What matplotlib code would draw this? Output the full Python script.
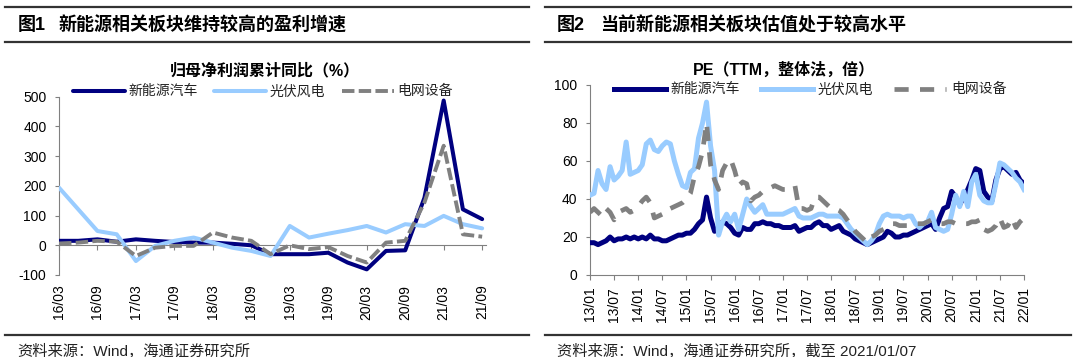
import numpy as np
import pandas as pd
import matplotlib
matplotlib.use('Agg')
import matplotlib.pyplot as plt
from matplotlib.lines import Line2D

plt.rcParams['font.family'] = ['Liberation Sans', 'Noto Sans CJK SC']
plt.rcParams['axes.unicode_minus'] = False

# ---- figure 1: quarterly cumulative net profit yoy (%) ----
quarters = ['16/03', '16/06', '16/09', '16/12', '17/03', '17/06', '17/09', '17/12',
            '18/03', '18/06', '18/09', '18/12', '19/03', '19/06', '19/09', '19/12',
            '20/03', '20/06', '20/09', '20/12', '21/03', '21/06', '21/09']
nev_yoy = [15, 15, 20, 12, 20, 15, 11, 9, 9, 5, 0, -30, -30, -30, -25, -58,
           -81, -19, -17, 160, 487, 121, 88]
pv_yoy = [194, 121, 48, 37, -53, -2, 15, 26, 9, -8, -19, -36, 65, 26, 39, 51,
          65, 43, 71, 65, 99, 71, 57]
grid_yoy = [6, 9, 15, 12, -36, -8, -2, -2, 43, 26, 15, -30, 0, -13, -6, -36,
            -58, 9, 15, 144, 335, 37, 29]

# ---- figure 2: monthly PE (TTM), 2013/01 - 2022/01 ----
pe_months = pd.date_range('2013-01-01', '2022-01-01', freq='MS')
nev_pe = [17, 17, 16, 17, 18, 20, 18, 19, 19, 20,
          19, 20, 19, 20, 19, 21, 19, 19, 18, 18,
          19, 20, 21, 21, 22, 22, 24, 27, 29, 41,
          30, 23, 25, 28, 27, 25, 22, 21, 25, 24,
          24, 27, 27, 28, 27, 27, 26, 26, 25, 25,
          25, 26, 23, 24, 25, 25, 27, 28, 26, 26,
          24, 25, 26, 23, 22, 21, 19, 18, 17, 16,
          17, 18, 19, 20, 23, 22, 20, 20, 21, 21,
          22, 23, 24, 25, 26, 27, 24, 30, 35, 36,
          44, 41, 37, 41, 45, 50, 56, 55, 44, 41,
          39, 50, 56, 57, 55, 53, 54, 50, 48]
pv_pe = [42, 43, 55, 48, 45, 57, 50, 52, 55, 70,
         53, 54, 55, 58, 69, 71, 66, 65, 68, 70,
         69, 60, 53, 47, 46, 54, 56, 72, 80, 91,
         68, 55, 21, 28, 32, 28, 32, 24, 32, 40,
         36, 33, 35, 37, 32, 32, 32, 32, 32, 33,
         34, 35, 31, 30, 30, 30, 31, 32, 32, 31,
         31, 31, 31, 30, 27, 24, 22, 20, 18, 16,
         18, 21, 27, 31, 32, 31, 31, 31, 30, 31,
         31, 27, 25, 27, 28, 33, 25, 24, 23, 24,
         32, 42, 36, 44, 36, 49, 53, 42, 39, 38,
         38, 48, 59, 58, 56, 54, 51, 49, 45]
grid_pe = [33, 35, 33, 31, 35, 33, 29, 33, 34, 35,
           33, 34, 36, 39, 41, 38, 30, 31, 32, 35,
           35, 36, 37, 38, 40, 43, 52, 57, 65, 80,
           58, 50, 45, 55, 59, 61, 55, 47, 49, 48,
           39, 41, 42, 44, 45, 46, 47, 46, 45, 45,
           46, 47, 35, 35, 34, 35, 41, 41, 39, 37,
           35, 35, 34, 32, 29, 26, 23, 21, 19, 17,
           20, 21, 23, 24, 25, 27, 27, 26, 26, 26,
           27, 27, 27, 27, 28, 29, 28, 27, 27, 28,
           28, 27, 27, 27, 27, 28, 28, 29, 24, 23,
           24, 26, 30, 25, 26, 30, 25, 28, 30]

names = ['新能源汽车', '光伏风电', '电网设备']
NAVY = '#000080'
LBLUE = '#99CCFF'
GRAY = '#808080'
RULE = '#333333'

W, H = 1080, 357
fig = plt.figure(figsize=(W / 100, H / 100), dpi=100)


def fx(x):
    return x / W


def fy(y):
    return 1 - y / H


def rule(x0, x1, y):
    fig.add_artist(Line2D([fx(x0), fx(x1)], [fy(y), fy(y)], transform=fig.transFigure,
                          color=RULE, lw=1.6))


def style_axes(ax):
    for s in ['top', 'right', 'bottom']:
        ax.spines[s].set_visible(False)
    ax.spines['left'].set_color(GRAY)
    ax.spines['left'].set_linewidth(0.8)
    ax.tick_params(axis='y', direction='out', length=3, color=GRAY, width=0.8,
                   labelsize=10, pad=6)


# panel frames
for x0, x1 in [(5, 529), (545, 1071)]:
    rule(x0, x1, 6.7)
    rule(x0, x1, 41.7)
    rule(x0, x1, 334.5)

tkw = dict(fontsize=13, fontweight='bold', va='center')
fig.text(fx(18), fy(25.5), '图1', **tkw)
fig.text(fx(59), fy(25.5), '新能源相关板块维持较高的盈利增速', **tkw)
fig.text(fx(557), fy(25.5), '图2', **tkw)
fig.text(fx(600), fy(25.5), '当前新能源相关板块估值处于较高水平', **tkw)

fig.text(fx(264.5), fy(70.7), '归母净利润累计同比（%）', fontsize=11.5, fontweight='bold',
         ha='center', va='center')
fig.text(fx(784), fy(69.5), 'PE（TTM，整体法，倍）', fontsize=11.5, fontweight='bold',
         ha='center', va='center')

skw = dict(fontsize=11, va='center', color='#222222')
fig.text(fx(17), fy(351), '资料来源：Wind，海通证券研究所', **skw)
fig.text(fx(557), fy(351), '资料来源：Wind，海通证券研究所，截至 2021/01/07', **skw)

# ---- left chart ----
ax1 = fig.add_axes([fx(59), fy(275), fx(486 - 59), (275 - 96.7) / H])
xq = np.arange(len(quarters))
l1, = ax1.plot(xq, nev_yoy, color=NAVY, lw=2.9, solid_joinstyle='round',
               solid_capstyle='round', zorder=3)
l2, = ax1.plot(xq, pv_yoy, color=LBLUE, lw=2.9, solid_joinstyle='round',
               solid_capstyle='round', zorder=3)
l3, = ax1.plot(xq, grid_yoy, color=GRAY, lw=2.8, dashes=(3.2, 1.1),
               dash_joinstyle='round', zorder=3)
ax1.set_xlim(0, 22.2)
ax1.set_ylim(-100, 500)
ax1.set_yticks(np.arange(-100, 501, 100))
style_axes(ax1)
ax1.set_xticks(xq[::2], quarters[::2], rotation=90)
ax1.tick_params(axis='x', length=0, labelsize=10, pad=7)

sec = ax1.secondary_xaxis(1 / 6)
sec.set_xticks(xq[::2], [''] * len(xq[::2]))
sec.tick_params(axis='x', direction='out', length=3.5, color=GRAY, width=0.8)
sec.spines['bottom'].set_color(GRAY)
sec.spines['bottom'].set_linewidth(0.8)

ax1.legend([l1, l2, l3], names, loc='center left', bbox_to_anchor=(fx(73), fy(91.5)),
           bbox_transform=fig.transFigure, ncol=3, frameon=False, fontsize=10,
           borderpad=0, borderaxespad=0, handlelength=3.74, handletextpad=0.25,
           columnspacing=1.2, labelcolor='#222222')

# ---- right chart ----
ax2 = fig.add_axes([fx(590), fy(275), fx(1024 - 590), (275 - 85) / H])
xm = np.arange(len(pe_months))
r1, = ax2.plot(xm, nev_pe, color=NAVY, lw=3.6, solid_joinstyle='round', zorder=3)
r2, = ax2.plot(xm, pv_pe, color=LBLUE, lw=3.6, solid_joinstyle='round', zorder=3)
r3, = ax2.plot(xm, grid_pe, color=GRAY, lw=3.4, dashes=(3.0, 2.4), zorder=3)
ax2.set_xlim(0, len(pe_months) - 1)
ax2.set_ylim(0, 100)
ax2.set_yticks(np.arange(0, 101, 20))
style_axes(ax2)
ax2.spines['bottom'].set_visible(True)
ax2.spines['bottom'].set_color(GRAY)
ax2.spines['bottom'].set_linewidth(0.8)
ax2.set_xticks(xm[::6], [d.strftime('%y/%m') for d in pe_months[::6]], rotation=90)
ax2.tick_params(axis='x', direction='out', length=3.5, color=GRAY, width=0.8,
                labelsize=10, pad=5)

ax2.legend([r1, r2, r3], names, loc='center left', bbox_to_anchor=(fx(614), fy(89.5)),
           bbox_transform=fig.transFigure, ncol=3, frameon=False, fontsize=10,
           borderpad=0, borderaxespad=0, handlelength=3.74, handletextpad=0.35,
           columnspacing=1.5, labelcolor='#222222')

fig.savefig('out.png', dpi=100)
